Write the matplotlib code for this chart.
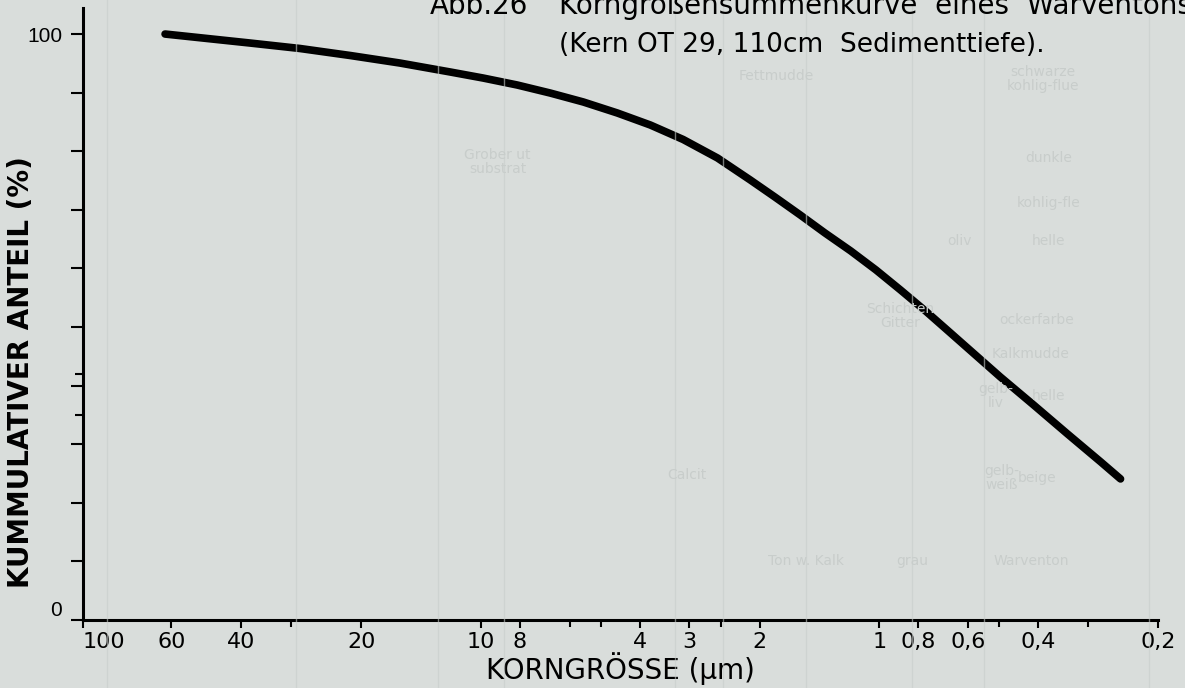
import matplotlib.pyplot as plt
import numpy as np
from matplotlib.ticker import FixedLocator, NullFormatter

# Korngroessensummenkurve, Kern OT 29, 110 cm
korn = [62.2, 38.0, 28.5, 21.3, 16.0, 11.96, 9.89, 8.12, 6.71, 5.54, 4.55, 3.76,
        3.11, 2.55, 2.11, 1.83, 1.58, 1.37, 1.18, 1.02, 0.885, 0.766, 0.663,
        0.601, 0.497, 0.410, 0.337, 0.278, 0.248]
anteil = [100.0, 98.46, 97.53, 96.33, 95.05, 93.52, 92.49, 91.30, 89.93, 88.40,
          86.52, 84.47, 82.00, 78.84, 75.09, 72.18, 69.11, 66.04, 62.97, 59.73,
          56.31, 52.73, 48.98, 46.42, 41.47, 36.69, 31.74, 26.96, 24.06]

x_labels = [100, 60, 40, 20, 10, 8, 4, 3, 2, 1, 0.8, 0.6, 0.4, 0.2]
x_extra = [30, 6, 5, 2.5, 0.5, 0.3]
y_ticks = [0, 10, 20, 30, 40, 50, 60, 70, 80, 90, 100]
y_extra = [35, 42]

bg = '#d9dddb'
faint = '#c8cdcb'

fig = plt.figure(figsize=(11.85, 6.88), dpi=100, facecolor=bg)
ax = fig.add_axes([0.070, 0.099, 0.907, 0.889])
ax.set_facecolor(bg)

# durchscheinende Tabelle im Hintergrund
for xf in [0.09, 0.25, 0.37, 0.425, 0.57, 0.61, 0.68, 0.77, 0.83, 0.97]:
    fig.add_artist(plt.Line2D([xf, xf], [0.0, 1.0], color=faint, lw=1.0, alpha=0.6))
hinten = [
    (0.880, 0.885, 'schwarze\nkohlig-flue'), (0.655, 0.89, 'Fettmudde'),
    (0.885, 0.77, 'dunkle'), (0.42, 0.765, 'Grober ut\nsubstrat'),
    (0.885, 0.705, 'kohlig-fle'), (0.885, 0.65, 'helle'), (0.81, 0.65, 'oliv'),
    (0.875, 0.535, 'ockerfarbe'), (0.76, 0.54, 'Schichten\nGitter'),
    (0.87, 0.485, 'Kalkmudde'), (0.885, 0.425, 'helle'), (0.84, 0.425, 'gelb-\nliv'),
    (0.875, 0.305, 'beige'), (0.58, 0.31, 'Calcit'), (0.845, 0.305, 'gelb-\nweiß'),
    (0.87, 0.185, 'Warventon'), (0.77, 0.185, 'grau'), (0.68, 0.185, 'Ton w. Kalk'),
]
for xf, yf, s in hinten:
    fig.text(xf, yf, s, color=faint, fontsize=10, ha='center', va='center',
             linespacing=1.0)

ax.plot(korn, anteil, color='black', lw=5.5, solid_capstyle='round',
        solid_joinstyle='round', zorder=5)

ax.set_xscale('log')
ax.set_xlim(100, 0.2)
ax.set_ylim(0, 104.4)

for s in ['top', 'right']:
    ax.spines[s].set_visible(False)
for s in ['left', 'bottom']:
    ax.spines[s].set_linewidth(2.2)
    ax.spines[s].set_color('black')

ax.xaxis.set_major_locator(FixedLocator(x_labels))
ax.xaxis.set_minor_locator(FixedLocator(x_extra))
ax.xaxis.set_minor_formatter(NullFormatter())
ax.set_xticklabels([('%g' % v).replace('.', ',') for v in x_labels])
ax.tick_params(axis='x', which='both', direction='out', length=6, width=1.5,
               pad=3, labelsize=16)
ax.tick_params(axis='x', which='minor', length=5)
ax.get_xticklabels()[0].set_ha('left')

ax.yaxis.set_major_locator(FixedLocator(y_ticks))
ax.yaxis.set_minor_locator(FixedLocator(y_extra))
ax.yaxis.set_minor_formatter(NullFormatter())
ax.set_yticklabels(['0'] + [''] * 9 + ['100'])
ax.tick_params(axis='y', which='both', direction='out', length=9, width=1.5,
               pad=6, labelsize=15)
ax.tick_params(axis='y', which='minor', length=6)
for lab in ax.get_yticklabels():
    lab.set_family('Liberation Sans')
    if lab.get_text() == '0':
        lab.set_va('bottom')

ax.set_xlabel('KORNGRÖSSE (µm)', fontsize=20)
ax.xaxis.set_label_coords(0.50, -0.053)
ax.set_ylabel('KUMMULATIVER ANTEIL (%)', fontsize=20, fontweight='bold')
ax.yaxis.set_label_coords(-0.045, 0.405)

fig.text(0.363, 1 - 14 / 688, 'Abb.26', fontsize=20, ha='left', va='baseline')
fig.text(0.472, 1 - 14 / 688, 'Korngrößensummenkurve  eines  Warventons',
         fontsize=20, ha='left', va='baseline')
fig.text(0.472, 0.934, '(Kern OT 29, 110cm  Sedimenttiefe).',
         fontsize=19, ha='left', va='center')

fig.savefig('out.png', dpi=100, facecolor=bg)
